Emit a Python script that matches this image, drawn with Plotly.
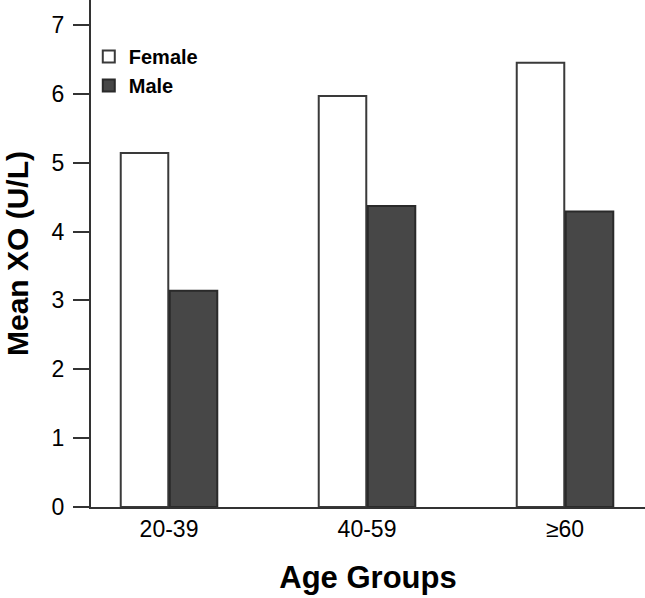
import plotly.graph_objects as go

categories = ["20-39", "40-59", "≥60"]
female = [5.14, 5.97, 6.45]
male = [3.14, 4.37, 4.29]

FONT = "Arial, Liberation Sans, sans-serif"
LINE = "#333333"

fig = go.Figure()
fig.add_trace(go.Bar(
    x=categories, y=female, name="Female",
    marker=dict(color="white", line=dict(color="#3a3a3a", width=2)),
))
fig.add_trace(go.Bar(
    x=categories, y=male, name="Male",
    marker=dict(color="#474747", line=dict(color="#2a2a2a", width=2)),
))

fig.update_layout(
    width=645, height=598,
    barmode="group", bargap=0.505, bargroupgap=0.03,
    plot_bgcolor="white", paper_bgcolor="white",
    margin=dict(l=91, r=0, t=0, b=91),
    font=dict(family=FONT, color="black"),
    showlegend=True,
    legend=dict(
        x=-0.004, y=0.927, xanchor="left", yanchor="top",
        font=dict(family=FONT, size=20, color="black", weight="bold"),
        bgcolor="rgba(0,0,0,0)", tracegroupgap=0, itemwidth=30,
    ),
    xaxis=dict(
        range=[-0.394, 2.404], automargin=False,
        showline=True, linecolor=LINE, linewidth=2,
        ticks="", tickfont=dict(size=23, family=FONT, color="black"),
        showgrid=False,
        title=dict(text="Age Groups", font=dict(size=31, family=FONT, weight="bold", color="black"), standoff=26),
    ),
    yaxis=dict(
        range=[0, 7.363], automargin=False,
        tickvals=[0, 1, 2, 3, 4, 5, 6, 7],
        showline=True, linecolor=LINE, linewidth=2,
        ticks="outside", ticklen=16, tickwidth=1.5, tickcolor=LINE,
        ticklabelstandoff=4,
        tickfont=dict(size=23, family=FONT, color="black"),
        showgrid=False, zeroline=False,
        title=dict(text="Mean XO (U/L)", font=dict(size=30, family=FONT, weight="bold", color="black"), standoff=14),
    ),
)

fig.write_html(
    "out.html",
    config={"displayModeBar": False},
    post_script="document.body.style.margin='0';document.body.style.overflow='hidden';",
)
